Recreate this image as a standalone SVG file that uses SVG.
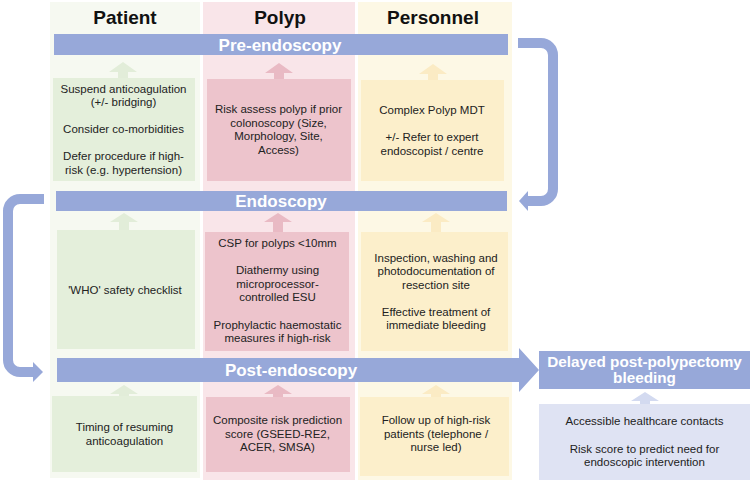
<svg xmlns="http://www.w3.org/2000/svg" width="752" height="484" viewBox="0 0 752 484">
<style>
.hdr{font-family:"Liberation Sans",Arial,sans-serif;font-weight:bold;font-size:19px;fill:#111;text-anchor:middle}
.bar{fill:#97a8d9}
.bt{font-family:"Liberation Sans",Arial,sans-serif;font-weight:bold;font-size:17px;fill:#fff;text-anchor:middle}
.t{font-family:"Liberation Sans",Arial,sans-serif;font-size:11.5px;fill:#222;text-anchor:middle}
.g{fill:#e4efdb}.p{fill:#edc4cc}.y{fill:#fcefcb}.l{fill:#dfe3f3}
.ga{fill:#e2edd9}.pa{fill:#e9bac4}.ya{fill:#fbebc4}.la{fill:#d3daf0}
.conn{fill:none;stroke:#97a8d9;stroke-width:10}
</style>
<rect width="752" height="484" fill="#fff"/>
<g id="columns">
<rect x="50" y="2" width="150" height="476" fill="#f6f9f1"/>
<rect x="203" y="2" width="152" height="478" fill="#f9e5e9"/>
<rect x="358" y="2" width="154" height="478" fill="#fdf8e5"/>
<text class="hdr" x="125" y="24">Patient</text>
<text class="hdr" x="280" y="24">Polyp</text>
<text class="hdr" x="433" y="24">Personnel</text>
</g>
<g id="connectors">
<path class="conn" d="M518,43 H541 A12,12 0 0 1 553,55 V189 A12,12 0 0 1 541,201 H526"/>
<polygon fill="#97a8d9" points="528,191 519,201 528,211"/>
<path class="conn" d="M44,199 H20 A12,12 0 0 0 8,211 V360 A12,12 0 0 0 20,372 H34"/>
<polygon fill="#97a8d9" points="33,362 43,372 33,382"/>
<polygon class="ga" points="123,62 137,72 128,72 128,78 118,78 118,72 109,72"/>
<polygon class="pa" points="279,63 293,73 284,73 284,79 274,79 274,73 265,73"/>
<polygon class="ya" points="433,64 447,74 438,74 438,80 428,80 428,74 419,74"/>
<polygon class="ga" points="124,213 138,222 129,222 129,230 119,230 119,222 110,222"/>
<polygon class="pa" points="278,213 292,222 283,222 283,232 273,232 273,222 264,222"/>
<polygon class="ya" points="436,213 450,222 441,222 441,232 431,232 431,222 422,222"/>
<polygon class="ga" points="124,385 138,394 129,394 129,396 119,396 119,394 110,394"/>
<polygon class="pa" points="278,385 292,394 283,394 283,397 273,397 273,394 264,394"/>
<polygon class="ya" points="436,385 450,394 441,394 441,397 431,397 431,394 422,394"/>
<polygon class="la" points="645,392 659,401 650,401 650,404 640,404 640,401 631,401"/>
</g>
<g id="pre-endoscopy">
<rect class="bar" x="54" y="34" width="454" height="21"/>
<text class="bt" x="280" y="51">Pre-endoscopy</text>
</g>
<g id="endoscopy">
<rect class="bar" x="56" y="191" width="451" height="20"/>
<text class="bt" x="281" y="207">Endoscopy</text>
</g>
<g id="post-endoscopy">
<polygon class="bar" points="57,358 519,358 519,348 539,370 519,392 519,382 57,382"/>
<text class="bt" x="291" y="376">Post-endoscopy</text>
</g>
<g id="delayed">
<rect class="bar" x="539" y="351" width="211" height="38"/>
<text class="bt" style="font-size:15.3px" x="644.5" y="366.5">Delayed post-polypectomy</text>
<text class="bt" style="font-size:15.3px" x="644.5" y="383">bleeding</text>
</g>
<g id="patient-pre">
<rect class="g" x="53" y="78" width="142" height="103"/>
<text class="t" x="123.5" y="92.5">Suspend anticoagulation</text>
<text class="t" x="123.5" y="106">(+/- bridging)</text>
<text class="t" x="123.5" y="133">Consider co-morbidities</text>
<text class="t" x="123.5" y="160">Defer procedure if high-</text>
<text class="t" x="123.5" y="173.5">risk (e.g. hypertension)</text>
</g>
<g id="polyp-pre">
<rect class="p" x="207" y="79" width="144" height="102"/>
<text class="t" x="278.5" y="113">Risk assess polyp if prior</text>
<text class="t" x="278.5" y="126.5">colonoscopy (Size,</text>
<text class="t" x="278.5" y="140">Morphology, Site,</text>
<text class="t" x="278.5" y="153.5">Access)</text>
</g>
<g id="personnel-pre">
<rect class="y" x="361" y="80" width="143" height="101"/>
<text class="t" x="432" y="114">Complex Polyp MDT</text>
<text class="t" x="432" y="141">+/- Refer to expert</text>
<text class="t" x="432" y="154.5">endoscopist / centre</text>
</g>
<g id="patient-endo">
<rect class="g" x="57" y="230" width="138" height="119"/>
<text class="t" x="125" y="294">'WHO' safety checklist</text>
</g>
<g id="polyp-endo">
<rect class="p" x="205" y="232" width="144" height="119"/>
<text class="t" x="277.5" y="246.5">CSP for polyps &lt;10mm</text>
<text class="t" x="277.5" y="274">Diathermy using</text>
<text class="t" x="277.5" y="287.5">microprocessor-</text>
<text class="t" x="277.5" y="301">controlled ESU</text>
<text class="t" x="277.5" y="328.5">Prophylactic haemostatic</text>
<text class="t" x="277.5" y="342">measures if high-risk</text>
</g>
<g id="personnel-endo">
<rect class="y" x="361" y="232" width="147" height="119"/>
<text class="t" x="436" y="261.5">Inspection, washing and</text>
<text class="t" x="436" y="275">photodocumentation of</text>
<text class="t" x="436" y="288.5">resection site</text>
<text class="t" x="436" y="315.5">Effective treatment of</text>
<text class="t" x="436" y="329">immediate bleeding</text>
</g>
<g id="patient-post">
<rect class="g" x="52" y="396" width="145" height="76"/>
<text class="t" x="124.5" y="431">Timing of resuming</text>
<text class="t" x="124.5" y="444.5">anticoagulation</text>
</g>
<g id="polyp-post">
<rect class="p" x="206" y="397" width="144" height="75"/>
<text class="t" x="277.5" y="424">Composite risk prediction</text>
<text class="t" x="277.5" y="437.5">score (GSEED-RE2,</text>
<text class="t" x="277.5" y="451">ACER, SMSA)</text>
</g>
<g id="personnel-post">
<rect class="y" x="360" y="397" width="149" height="79"/>
<text class="t" x="436" y="424">Follow up of high-risk</text>
<text class="t" x="436" y="437.5">patients (telephone /</text>
<text class="t" x="436" y="451">nurse led)</text>
</g>
<g id="delayed-actions">
<rect class="l" x="539" y="404" width="211" height="76"/>
<text class="t" x="644.5" y="425">Accessible healthcare contacts</text>
<text class="t" x="644.5" y="452.5">Risk score to predict need for</text>
<text class="t" x="644.5" y="466">endoscopic intervention</text>
</g>
</svg>
